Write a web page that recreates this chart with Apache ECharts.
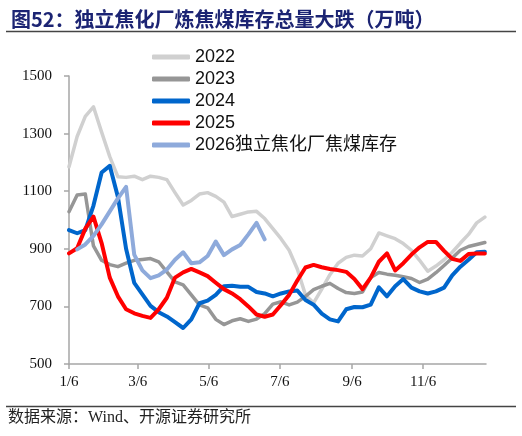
<!DOCTYPE html>
<html>
<head>
<meta charset="utf-8">
<script src="https://cdn.jsdelivr.net/npm/echarts@6/dist/echarts.min.js"></script>
<style>
html,body{margin:0;padding:0;background:#fff;}
#chart{width:522px;height:436px;}
</style>
</head>
<body>
<div id="chart"></div>
<script>
// Weekly dates (x positions)
const weeks = ['1/6','1/13','1/20','1/27','2/3','2/10','2/17','2/24','3/3','3/10','3/17','3/24','3/31','4/7','4/14','4/21','4/28','5/5','5/12','5/19','5/26','6/2','6/9','6/16','6/23','6/30','7/7','7/14','7/21','7/28','8/4','8/11','8/18','8/25','9/1','9/8','9/15','9/22','9/29','10/6','10/13','10/20','10/27','11/3','11/10','11/17','11/24','12/1','12/8','12/15','12/22','12/29'];
const tickLabels = ['1/6','3/6','5/6','7/6','9/6','11/6'];
const yTicks = [500, 700, 900, 1100, 1300, 1500];

const s2022 = [1185,1290,1360,1393,1305,1220,1150,1148,1152,1140,1152,1148,1140,1095,1052,1068,1090,1095,1082,1062,1012,1020,1028,1030,1005,970,935,895,830,740,712,760,810,850,870,878,875,900,955,945,935,918,895,860,822,840,862,888,920,950,990,1010];
const s2023 = [1029,1087,1090,910,860,845,838,850,860,863,866,855,820,785,775,740,705,695,655,637,650,657,648,656,675,708,716,705,715,735,758,770,780,762,748,745,750,800,818,812,808,803,797,783,795,817,842,868,895,908,915,922];
const s2024 = [965,954,965,1050,1165,1188,1080,900,782,742,702,680,665,645,625,655,711,720,740,770,772,768,768,750,745,735,745,752,755,722,706,675,655,648,690,698,697,706,766,735,770,795,765,752,745,752,765,808,838,862,888,890];
const s2025 = [884,902,970,1012,920,800,735,690,676,667,660,690,730,800,818,830,818,805,782,760,745,725,700,672,664,672,705,740,790,835,844,836,830,826,820,795,760,800,855,884,825,850,880,905,924,924,893,865,858,882,884,884];
const s2026 = [null,898,915,945,985,1030,1075,1115,880,825,798,808,828,862,888,850,853,875,925,878,898,913,950,990,933];

const names = ['2022','2023','2024','2025','2026独立焦化厂焦煤库存'];
const colors = ['#d0d0d0','#969696','#0066cc','#ff0000','#8eaadb'];
const widths = [3.5,3.5,4,4,4];
const allSeries = [s2022, s2023, s2024, s2025, s2026];

function dayOf(s){
  const p = s.split('/').map(Number);
  return Math.round((Date.UTC(2025, p[0]-1, p[1]) - Date.UTC(2025, 0, 6)) / 86400000);
}
const weekDays = weeks.map(dayOf);
const tickDays = tickLabels.map(dayOf);
const labelMap = {};
tickLabels.forEach((t,i)=>{ labelMap[tickDays[i]] = t; });

const chart = echarts.init(document.getElementById('chart'), null, {renderer:'canvas'});
const series = allSeries.map((arr, k) => ({
  name: names[k],
  type: 'line',
  symbol: 'none',
  smooth: false,
  connectNulls: false,
  lineStyle: {color: colors[k], width: widths[k], cap:'round', join:'round'},
  itemStyle: {color: colors[k]},
  data: arr.map((v,i) => [weekDays[i], v])
}));

const axisColor = '#a6a6a6';
chart.setOption({
  animation: false,
  backgroundColor: '#fff',
  title: {
    text: '图52：独立焦化厂炼焦煤库存总量大跌（万吨）',
    left: 6, top: 4,
    textStyle: {fontFamily: '"Noto Sans CJK SC", sans-serif', fontSize: 20, fontWeight: 'bold', color: '#1c2473'}
  },
  graphic: [
    {type:'line', shape:{x1:6, y1:31.5, x2:516, y2:31.5}, style:{stroke:'#444', lineWidth:1.5}},
    {type:'line', shape:{x1:6, y1:406.5, x2:516, y2:406.5}, style:{stroke:'#444', lineWidth:1.5}},
    {type:'text', left: 8, top: 410, style:{text:'数据来源：Wind、开源证券研究所', font:'16px "Liberation Serif", "Noto Sans CJK SC", serif', fill:'#222'}}
  ],
  legend: {
    orient: 'vertical',
    left: 147, top: 43,
    icon: 'roundRect',
    itemWidth: 38, itemHeight: 5, itemGap: 4,
    textStyle: {fontFamily: '"Liberation Sans", "Noto Sans CJK SC", sans-serif', fontSize: 18, color: '#111', lineHeight: 18},
    data: names
  },
  grid: {left: 69, right: 36, top: 76, bottom: 72, containLabel: false},
  xAxis: {
    type: 'value',
    min: 0, max: 358,
    axisLine: {show: true, lineStyle: {color: axisColor, width: 1.5}},
    axisTick: {show: true, customValues: tickDays, length: 5, lineStyle: {color: axisColor, width: 1.5}},
    axisLabel: {customValues: tickDays, formatter: v => labelMap[v] || '', fontFamily: '"Liberation Serif", serif', fontSize: 15, color: '#111', margin: 11},
    splitLine: {show: false}
  },
  yAxis: {
    type: 'value',
    min: yTicks[0], max: yTicks[yTicks.length-1], interval: 200,
    axisLine: {show: true, lineStyle: {color: axisColor, width: 1.5}},
    axisTick: {show: true, inside: false, length: 5, lineStyle: {color: axisColor, width: 1.5}},
    axisLabel: {formatter: v => String(v), fontFamily: '"Liberation Serif", serif', fontSize: 15, color: '#111', margin: 17},
    splitLine: {show: false}
  },
  series: series
});
</script>
</body>
</html>
